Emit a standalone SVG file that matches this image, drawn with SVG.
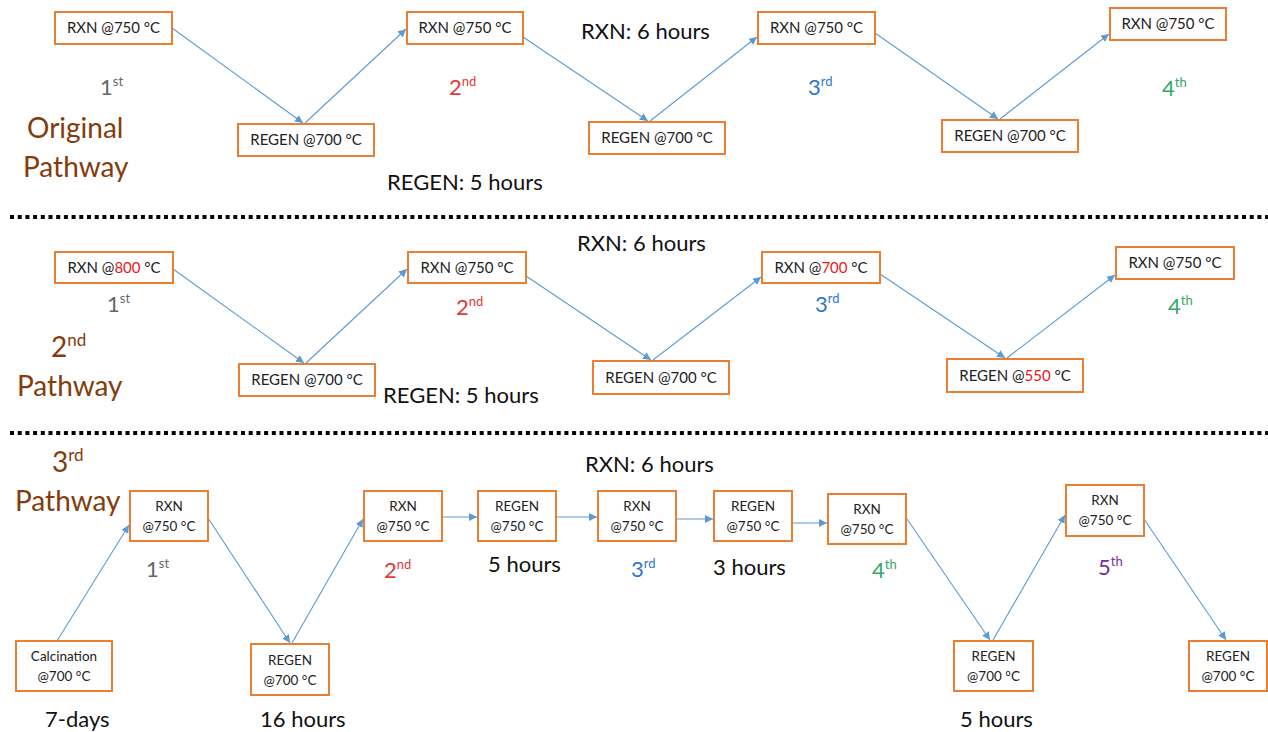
<svg xmlns="http://www.w3.org/2000/svg" width="1268" height="732" viewBox="0 0 1268 732">
<style>
text{font-family:Lato,"Open Sans","Liberation Sans",sans-serif;}
.box{fill:#fff;stroke:#ED7D31;stroke-width:2;}
.bt{font-size:15px;fill:#222;text-anchor:middle;}
.bt2{font-size:13.5px;fill:#222;text-anchor:middle;}
.hot{fill:#E8161B;}
.con{stroke:#5B9BD5;stroke-width:1.1;fill:none;marker-end:url(#ah);}
.lbl{font-size:22px;fill:#111;}
.ord{font-size:22px;}
.sup{font-size:13px;}
.path{font-size:28px;fill:#843C0C;}
.sep{stroke:#000;stroke-width:4;stroke-dasharray:4 3.7;}
.g1{fill:#666;} .g2{fill:#E0383C;} .g3{fill:#2F74D0;} .g4{fill:#34A865;} .g5{fill:#7030A0;}
</style>
<defs>
<marker id="ah" markerUnits="userSpaceOnUse" markerWidth="10" markerHeight="10" refX="8" refY="4" orient="auto">
<path d="M0,0 L8,4 L0,8 z" fill="#5B9BD5"/>
</marker>
</defs>

<g id="separators">
<line class="sep" x1="10" y1="217" x2="1268" y2="217"/>
<line class="sep" x1="10" y1="433" x2="1268" y2="433"/>
</g>

<g id="connectors">
<line class="con" x1="172" y1="28" x2="303" y2="123"/>
<line class="con" x1="305" y1="123" x2="406" y2="29"/>
<line class="con" x1="523" y1="37" x2="648" y2="121"/>
<line class="con" x1="650" y1="121" x2="757" y2="37"/>
<line class="con" x1="875" y1="33" x2="998" y2="119"/>
<line class="con" x1="1000" y1="119" x2="1109" y2="34"/>

<line class="con" x1="173" y1="269" x2="304" y2="363"/>
<line class="con" x1="306" y1="363" x2="407" y2="269"/>
<line class="con" x1="526" y1="276" x2="651" y2="360"/>
<line class="con" x1="653" y1="360" x2="761" y2="277"/>
<line class="con" x1="880" y1="274" x2="1005" y2="358"/>
<line class="con" x1="1007" y1="358" x2="1115" y2="275"/>

<line class="con" x1="57" y1="641" x2="129" y2="525"/>
<line class="con" x1="208" y1="518" x2="290" y2="643"/>
<line class="con" x1="292" y1="643" x2="363" y2="519"/>
<line class="con" x1="442" y1="517" x2="477" y2="517"/>
<line class="con" x1="556" y1="517" x2="597" y2="517"/>
<line class="con" x1="676" y1="519" x2="713" y2="519"/>
<line class="con" x1="792" y1="523" x2="827" y2="523"/>
<line class="con" x1="907" y1="519" x2="990" y2="640"/>
<line class="con" x1="993" y1="640" x2="1065" y2="515"/>
<line class="con" x1="1144" y1="519" x2="1226" y2="640"/>
</g>

<!-- Section 1 nodes -->
<g id="s1_rxn1"><rect class="box" x="55" y="12" width="117" height="32"/><text class="bt" x="113.5" y="33">RXN @750 °C</text></g>
<g id="s1_regen1"><rect class="box" x="238" y="124" width="136" height="32"/><text class="bt" x="306" y="145">REGEN @700 °C</text></g>
<g id="s1_rxn2"><rect class="box" x="407" y="12" width="116" height="32"/><text class="bt" x="465" y="33">RXN @750 °C</text></g>
<g id="s1_regen2"><rect class="box" x="589" y="122" width="136" height="32"/><text class="bt" x="657" y="143">REGEN @700 °C</text></g>
<g id="s1_rxn3"><rect class="box" x="758" y="12" width="117" height="32"/><text class="bt" x="816.5" y="33">RXN @750 °C</text></g>
<g id="s1_regen3"><rect class="box" x="942" y="120" width="136" height="32"/><text class="bt" x="1010" y="141">REGEN @700 °C</text></g>
<g id="s1_rxn4"><rect class="box" x="1110" y="8" width="116" height="32"/><text class="bt" x="1168" y="29">RXN @750 °C</text></g>

<!-- Section 2 nodes -->
<g id="s2_rxn1"><rect class="box" x="55" y="252" width="118" height="31"/><text class="bt" x="114" y="273">RXN @<tspan class="hot">800</tspan> °C</text></g>
<g id="s2_regen1"><rect class="box" x="239" y="364" width="136" height="32"/><text class="bt" x="307" y="385">REGEN @700 °C</text></g>
<g id="s2_rxn2"><rect class="box" x="408" y="252" width="118" height="31"/><text class="bt" x="467" y="273">RXN @750 °C</text></g>
<g id="s2_regen2"><rect class="box" x="593" y="361" width="136" height="33"/><text class="bt" x="661" y="383">REGEN @700 °C</text></g>
<g id="s2_rxn3"><rect class="box" x="762" y="252" width="118" height="31"/><text class="bt" x="821" y="273">RXN @<tspan class="hot">700</tspan> °C</text></g>
<g id="s2_regen3"><rect class="box" x="947" y="359" width="136" height="33"/><text class="bt" x="1015" y="381">REGEN @<tspan class="hot">550</tspan> °C</text></g>
<g id="s2_rxn4"><rect class="box" x="1116" y="247" width="118" height="32"/><text class="bt" x="1175" y="268">RXN @750 °C</text></g>

<!-- Section 3 nodes -->
<g id="s3_calc"><rect class="box" x="16" y="641" width="96" height="50"/><text class="bt2" x="64" y="661">Calcination</text><text class="bt2" x="64" y="681">@700 °C</text></g>
<g id="s3_rxn1"><rect class="box" x="130" y="491" width="78" height="50"/><text class="bt2" x="169" y="511">RXN</text><text class="bt2" x="169" y="531">@750 °C</text></g>
<g id="s3_regen1"><rect class="box" x="251" y="644" width="78" height="51"/><text class="bt2" x="290" y="665">REGEN</text><text class="bt2" x="290" y="685">@700 °C</text></g>
<g id="s3_rxn2"><rect class="box" x="364" y="491" width="78" height="50"/><text class="bt2" x="403" y="511">RXN</text><text class="bt2" x="403" y="531">@750 °C</text></g>
<g id="s3_regenA"><rect class="box" x="478" y="491" width="78" height="50"/><text class="bt2" x="517" y="511">REGEN</text><text class="bt2" x="517" y="531">@750 °C</text></g>
<g id="s3_rxn3"><rect class="box" x="598" y="491" width="78" height="50"/><text class="bt2" x="637" y="511">RXN</text><text class="bt2" x="637" y="531">@750 °C</text></g>
<g id="s3_regenB"><rect class="box" x="714" y="491" width="78" height="50"/><text class="bt2" x="753" y="511">REGEN</text><text class="bt2" x="753" y="531">@750 °C</text></g>
<g id="s3_rxn4"><rect class="box" x="828" y="494" width="78" height="50"/><text class="bt2" x="867" y="514">RXN</text><text class="bt2" x="867" y="534">@750 °C</text></g>
<g id="s3_regen2"><rect class="box" x="954" y="641" width="79" height="50"/><text class="bt2" x="993.5" y="661">REGEN</text><text class="bt2" x="993.5" y="681">@700 °C</text></g>
<g id="s3_rxn5"><rect class="box" x="1066" y="485" width="78" height="51"/><text class="bt2" x="1105" y="505">RXN</text><text class="bt2" x="1105" y="525">@750 °C</text></g>
<g id="s3_regen3"><rect class="box" x="1189" y="641" width="78" height="50"/><text class="bt2" x="1228" y="661">REGEN</text><text class="bt2" x="1228" y="681">@700 °C</text></g>

<!-- Labels -->
<g id="labels">
<text class="path" x="27" y="138">Original</text>
<text class="path" x="23" y="177">Pathway</text>
<text class="path" x="51" y="357">2<tspan class="sup" style="font-size:17px" dy="-11">nd</tspan></text>
<text class="path" x="17" y="396">Pathway</text>
<text class="path" x="52" y="472">3<tspan style="font-size:17px" dy="-11">rd</tspan></text>
<text class="path" x="15" y="511">Pathway</text>

<text class="lbl" x="581" y="39">RXN: 6 hours</text>
<text class="lbl" x="387" y="190">REGEN: 5 hours</text>
<text class="lbl" x="577" y="251">RXN: 6 hours</text>
<text class="lbl" x="383" y="403">REGEN: 5 hours</text>
<text class="lbl" x="585" y="472">RXN: 6 hours</text>
<text class="lbl" x="488" y="572">5 hours</text>
<text class="lbl" x="713" y="575">3 hours</text>
<text class="lbl" x="45" y="727">7-days</text>
<text class="lbl" x="260" y="727">16 hours</text>
<text class="lbl" x="960" y="727">5 hours</text>

<text class="ord g1" x="100" y="95">1<tspan class="sup" dy="-9">st</tspan></text>
<text class="ord g2" x="449" y="95">2<tspan class="sup" dy="-9">nd</tspan></text>
<text class="ord g3" x="808" y="95">3<tspan class="sup" dy="-9">rd</tspan></text>
<text class="ord g4" x="1162" y="96">4<tspan class="sup" dy="-9">th</tspan></text>

<text class="ord g1" x="107" y="312">1<tspan class="sup" dy="-9">st</tspan></text>
<text class="ord g2" x="456" y="315">2<tspan class="sup" dy="-9">nd</tspan></text>
<text class="ord g3" x="815" y="312">3<tspan class="sup" dy="-9">rd</tspan></text>
<text class="ord g4" x="1168" y="314">4<tspan class="sup" dy="-9">th</tspan></text>

<text class="ord g1" x="146" y="577">1<tspan class="sup" dy="-9">st</tspan></text>
<text class="ord g2" x="384" y="578">2<tspan class="sup" dy="-9">nd</tspan></text>
<text class="ord g3" x="631" y="577">3<tspan class="sup" dy="-9">rd</tspan></text>
<text class="ord g4" x="872" y="578">4<tspan class="sup" dy="-9">th</tspan></text>
<text class="ord g5" x="1098" y="575">5<tspan class="sup" dy="-9">th</tspan></text>
</g>
</svg>
